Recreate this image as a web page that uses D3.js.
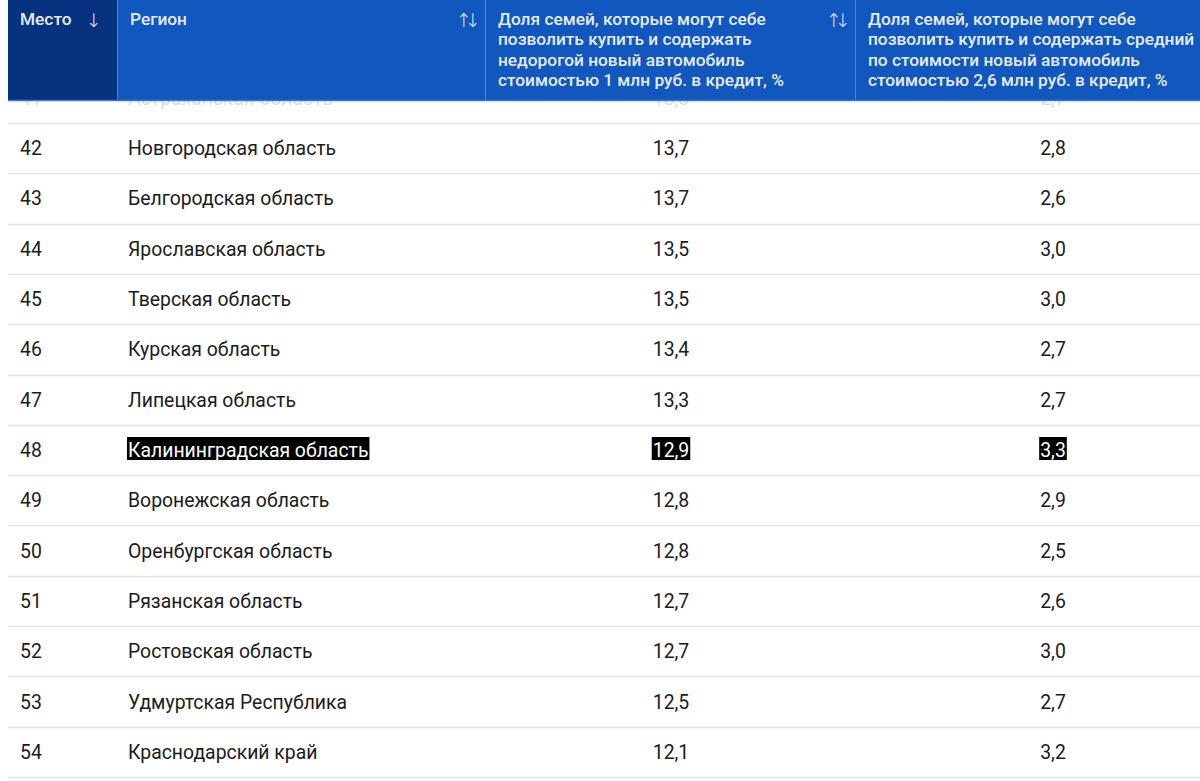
<!DOCTYPE html>
<html><head><meta charset="utf-8">
<script src="https://cdn.jsdelivr.net/npm/d3@7"></script>
<style>html,body{margin:0;padding:0;background:#fff;overflow:hidden}</style>
</head><body>
<svg id="chart" width="1200" height="781"></svg>
<script>
const ranks = [41,42,43,44,45,46,47,48,49,50,51,52,53,54];
const regions = ["Астраханская область","Новгородская область","Белгородская область","Ярославская область","Тверская область","Курская область","Липецкая область","Калининградская область","Воронежская область","Оренбургская область","Рязанская область","Ростовская область","Удмуртская Республика","Краснодарский край"];
const cheapCar = [13.8,13.7,13.7,13.5,13.5,13.4,13.3,12.9,12.8,12.8,12.7,12.7,12.5,12.1];
const midCar = [2.7,2.8,2.6,3.0,3.0,2.7,2.7,3.3,2.9,2.5,2.6,3.0,2.7,3.2];
const highlighted = "Калининградская область";
const headers = [
  ["Место"],
  ["Регион"],
  ["Доля семей, которые могут себе","позволить купить и содержать","недорогой новый автомобиль","стоимостью 1 млн руб. в кредит, %"],
  ["Доля семей, которые могут себе","позволить купить и содержать средний","по стоимости новый автомобиль","стоимостью 2,6 млн руб. в кредит, %"]
];
const sortIcons = ["↓","↑↓","↑↓",""];

const svg = d3.select("#chart");
const colEdges = [8,118,486,856,1200];
const headerH = 100;
const fmt = v => d3.format(".1f")(v).replace(".", ",");

svg.append("defs").append("clipPath").attr("id","bodyClip")
  .append("rect").attr("x",0).attr("y",headerH).attr("width",1200).attr("height",781-headerH);

// rows
const y = d3.scaleLinear().domain([0, ranks.length]).range([72.7, 72.7 + 50.31*ranks.length]);
const body = svg.append("g").attr("clip-path","url(#bodyClip)")
  .attr("font-family","Roboto, sans-serif").attr("font-size","19.4px");
const rows = body.selectAll("g.row").data(ranks.map((r,i)=>({r,i,reg:regions[i],a:cheapCar[i],b:midCar[i]})))
  .join("g").attr("class","row");
rows.append("line").attr("x1",colEdges[0]).attr("x2",1200)
  .attr("y1",d=>Math.round(y(d.i+1))+0.5).attr("y2",d=>Math.round(y(d.i+1))+0.5)
  .attr("stroke","#e3e3e3").attr("stroke-width",1.5);

const cells = [
  {x:20, anchor:"start", val:d=>String(d.r)},
  {x:128, anchor:"start", val:d=>d.reg},
  {x:(colEdges[2]+colEdges[3])/2, anchor:"middle", val:d=>fmt(d.a)},
  {x:1053, anchor:"middle", val:d=>fmt(d.b)}
];
rows.each(function(d){
  const g = d3.select(this);
  const base = (y(d.i)+y(d.i+1))/2 + 7;
  cells.forEach((c,ci)=>{
    const hl = d.reg === highlighted && ci>0;
    const t = g.append("text").attr("x",c.x).attr("y",base).attr("text-anchor",c.anchor)
      .attr("fill", d.i===0 ? "#dcdcdc" : (hl ? "#fff" : "#1b1b1b"))
      .text(c.val(d));
    if (hl) {
      const bb = t.node().getBBox();
      g.insert("rect", () => t.node()).attr("x",bb.x-1).attr("y",base-20).attr("width",bb.width+2).attr("height",23).attr("fill","#000");
    }
  });
});

// header
const head = svg.append("g");
const colFills = ["#07327f","#1257bd","#1257bd","#1257bd"];
head.selectAll("rect.h").data(colFills).join("rect").attr("class","h")
  .attr("x",(d,i)=>colEdges[i]).attr("y",0)
  .attr("width",(d,i)=>colEdges[i+1]-colEdges[i]).attr("height",headerH).attr("fill",d=>d);
head.selectAll("line.sep").data([1,2,3]).join("line").attr("class","sep")
  .attr("x1",i=>colEdges[i]-0.5).attr("x2",i=>colEdges[i]-0.5).attr("y1",0).attr("y2",headerH)
  .attr("stroke","#4d82d4").attr("stroke-width",1);
head.append("line").attr("x1",colEdges[0]).attr("x2",1200).attr("y1",headerH+0.5).attr("y2",headerH+0.5)
  .attr("stroke","#3d78d0").attr("stroke-width",1.5);
const ht = head.append("g").attr("font-family","Roboto, sans-serif").attr("font-size","17.3px").attr("font-weight",500).attr("fill","#e6ecf7");
headers.forEach((lines,i)=>{
  const t = ht.append("text").attr("x",colEdges[i]+12).attr("y",25);
  lines.forEach((l,j)=>t.append("tspan").attr("x",colEdges[i]+12).attr("dy",j?20.3:0).text(l));
});
const iconX = [94,462,832];
sortIcons.forEach((s,i)=>{ if(!s) return;
  ht.append("text").attr("x",iconX[i]).attr("y",27).attr("text-anchor","middle")
    .attr("font-family","DejaVu Sans, sans-serif").attr("font-size","19px").attr("font-weight",300)
    .attr("letter-spacing", s.length>1 ? "-7px" : "0").attr("dx", s.length>1 ? 3 : 0).text(s);
});
</script>
</body></html>
